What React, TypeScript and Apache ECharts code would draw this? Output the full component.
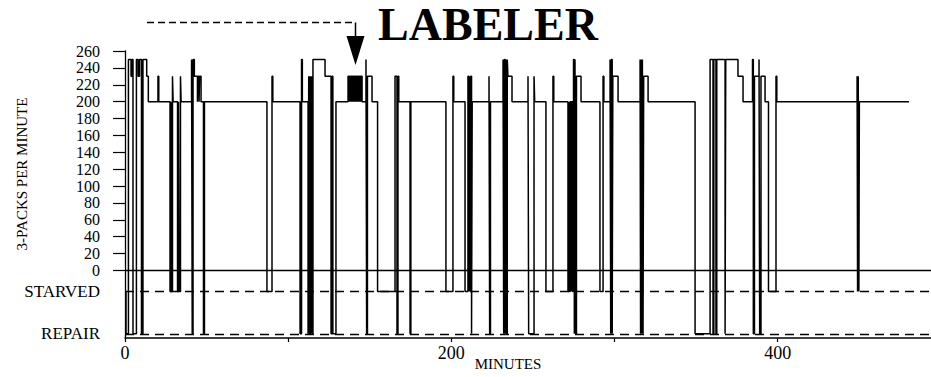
import React, { useEffect, useRef } from 'react';
import * as echarts from 'echarts';

const FONT = '"Liberation Serif", "Times New Roman", serif';

// Labeler speed levels (3-packs per minute); STARVED and REPAIR are plotted as pseudo-levels
const STARVED = -25;
const REPAIR = -75;

// Step change times (minutes) and the level reached at each time
const stepTimes = [
  0, 0.6, 2.1, 3.7, 4.3, 4.9, 7.0, 8.0, 8.9, 10.1, 11.0, 13.3, 14.3, 20.2, 20.7,
  27.6, 28.2, 28.5, 29.1, 29.5, 32.2, 32.8, 33.2, 34.0, 34.4, 40.8, 41.2, 41.7, 42.5,
  44.4, 44.7, 45.4, 45.7, 46.6, 48.1, 48.7, 87.0, 90.1, 90.6, 107.3, 108.2, 108.7,
  112.2, 112.6, 113.0, 113.5, 113.9, 114.3, 114.7, 115.2, 122.6, 126.3, 126.9, 127.4, 129.3,
  136.7, 137.2, 137.6, 138.1, 138.5, 139.0, 139.4, 139.9, 140.3, 140.8, 141.2, 141.7,
  142.1, 142.6, 143.0, 143.5, 143.9, 144.4, 144.8, 145.3, 147.7, 148.1, 148.6, 151.4,
  154.8, 165.5, 166.7, 167.3, 167.8, 174.7, 175.2, 196.7, 201.0, 201.5, 208.4,
  210.2, 210.7, 211.1, 211.5, 211.9, 212.4, 212.8, 223.1, 223.5, 224.0,
  231.7, 232.1, 232.5, 233.0, 233.4, 233.8, 234.3, 234.7, 237.2, 247.0, 247.4, 250.7, 251.1,
  258.0, 262.3, 262.8, 271.5, 272.0, 272.4, 272.9, 273.4, 273.8, 274.3, 274.9, 275.4,
  275.8, 276.2, 276.7, 279.5, 291.1, 293.0, 293.5, 297.3, 297.7, 298.1, 298.6, 299.0, 302.2,
  315.7, 316.0, 316.4, 316.8, 317.1, 317.5, 317.9, 320.6, 349.4, 358.6, 360.4, 360.9,
  362.2, 362.7, 367.8, 368.2, 375.7, 378.8, 384.6, 385.1, 385.8, 388.6, 389.0, 389.8,
  392.3, 394.4, 399.0, 399.5, 448.7, 449.0, 449.4, 449.8, 450.1, 480.5,
];
const stepLevels = [
  -25, -75, 250, 230, 250, -75, 250, 230, 250, -75, 250, 230, 200, 230, 200,
  -25, 200, -25, 230, 200, -25, 200, -25, 230, 200, 250, -75, 250, 230,
  200, 230, 200, 230, 200, -75, 200, -25, 230, 200, -75, 250, 200,
  -75, 230, -75, 230, -75, 230, -75, 250, 230, -75, 230, -75, 200,
  230, 200, 230, 200, 230, 200, 230, 200, 230, 200, 230, 200,
  230, 200, 230, 200, 230, 200, 230, 200, 250, -75, 230, 200,
  -25, 230, -75, 230, 200, -75, 200, -25, 230, 200, -25,
  230, -25, 230, -25, 230, -75, 200, 230, -75, 200,
  250, -75, 250, -75, 250, -75, 250, 230, 200, 230, -75, 230, 200,
  -25, 230, 200, -25, 200, -25, 200, -25, 200, -25, 250, -75,
  250, -75, 230, 200, -25, 230, 200, 250, -75, 250, -75, 230, 200,
  250, -75, 250, -75, 250, -75, 230, 200, -75, 250, -75, 250,
  -75, 250, -75, 250, 230, 200, 250, -75, 230, 250, -75, 230,
  200, -25, 230, 200, 230, -25, 230, -25, 200, 200,
];

const yTickValues = [0, 20, 40, 60, 80, 100, 120, 140, 160, 180, 200, 220, 240, 260];
const yLabelValues = [REPAIR, STARVED, 0, 20, 40, 60, 80, 100, 120, 140, 160, 180, 200, 220, 240, 260];
const xTickValues = [0, 100, 200, 300, 400];
const xLabelValues = [0, 200, 400];

export default function App() {
  const ref = useRef<HTMLDivElement>(null);
  useEffect(() => {
    const chart = echarts.init(ref.current!, null, { renderer: 'svg' });
    const data = stepTimes.map((t, i) => [t, stepLevels[i]]);
    chart.setOption({
      animation: false,
      backgroundColor: '#fff',
      grid: { left: 125, right: 0, top: 51, bottom: 39 },
      xAxis: {
        type: 'value',
        min: 0,
        max: 494,
        interval: 100,
        axisLine: { onZero: false, lineStyle: { color: '#000', width: 1.5 } },
        axisTick: { show: true, customValues: xTickValues, length: 4, lineStyle: { color: '#000', width: 1.2 } },
        axisLabel: {
          customValues: xLabelValues,
          color: '#000',
          fontFamily: FONT,
          fontSize: 18,
          margin: 6,
        },
        splitLine: { show: false },
      },
      yAxis: {
        type: 'value',
        min: -80,
        max: 260,
        interval: 20,
        axisLine: { show: true, onZero: false, lineStyle: { color: '#000', width: 1.3 } },
        axisTick: { show: true, customValues: yTickValues, length: 12, lineStyle: { color: '#000', width: 1.2 } },
        axisLabel: {
          customValues: yLabelValues,
          showMinLabel: true,
          showMaxLabel: true,
          hideOverlap: false,
          formatter: (v: number) =>
            v === STARVED ? '{w|STARVED}' : v === REPAIR ? '{w|REPAIR}' : String(v),
          color: '#000',
          fontFamily: FONT,
          fontSize: 16,
          lineHeight: 15,
          margin: 25,
          rich: {
            w: { fontFamily: FONT, fontSize: 17, lineHeight: 17, color: '#000' },
          },
        },
        splitLine: { show: false },
      },
      series: [
        {
          type: 'line',
          step: 'end',
          data,
          showSymbol: false,
          symbol: 'none',
          lineStyle: { color: '#000', width: 1.5 },
          markLine: {
            silent: true,
            symbol: 'none',
            label: { show: false },
            data: [
              { yAxis: 0, lineStyle: { type: 'solid', color: '#000', width: 1.4 } },
              { yAxis: STARVED, lineStyle: { type: [9, 6], color: '#000', width: 1.4 } },
              { yAxis: REPAIR, lineStyle: { type: [9, 6], color: '#000', width: 1.4 } },
            ],
          },
        },
      ],
      graphic: [
        {
          type: 'text',
          x: 488,
          y: 24,
          style: {
            text: 'LABELER',
            font: `bold 46px ${FONT}`,
            fill: '#000',
            align: 'center',
            verticalAlign: 'middle',
          },
        },
        {
          type: 'text',
          x: 22,
          y: 174,
          rotation: Math.PI / 2,
          style: {
            text: '3-PACKS PER MINUTE',
            font: `15px ${FONT}`,
            fill: '#000',
            align: 'center',
            verticalAlign: 'middle',
          },
        },
        {
          type: 'text',
          x: 508,
          y: 364,
          style: {
            text: 'MINUTES',
            font: `15px ${FONT}`,
            fill: '#000',
            align: 'center',
            verticalAlign: 'middle',
          },
        },
        {
          type: 'line',
          shape: { x1: 147, y1: 22.5, x2: 355, y2: 22.5 },
          style: { stroke: '#000', lineWidth: 1.5, lineDash: [7, 4] },
        },
        {
          type: 'line',
          shape: { x1: 355.5, y1: 22.5, x2: 355.5, y2: 38 },
          style: { stroke: '#000', lineWidth: 1.5 },
        },
        {
          type: 'polygon',
          shape: { points: [[346.5, 36], [364.5, 36], [355.5, 65]] },
          style: { fill: '#000' },
        },
      ],
    });
    return () => chart.dispose();
  }, []);
  return (
    <div
      ref={ref}
      style={{ position: 'fixed', left: 0, top: 0, width: 931, height: 377, background: '#fff' }}
    />
  );
}
